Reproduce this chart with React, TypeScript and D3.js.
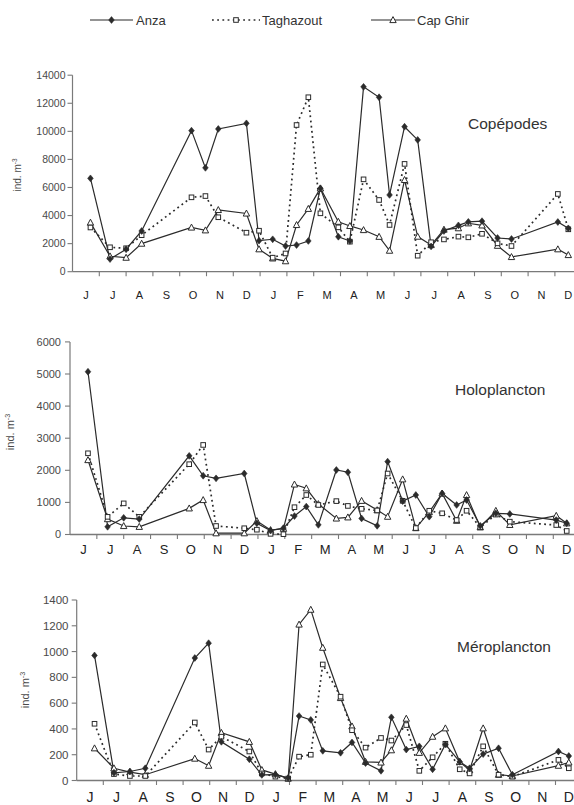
import React from 'react';
import * as d3 from 'd3';

// ---------- DATA ----------
const monthLabels = ['J', 'J', 'A', 'S', 'O', 'N', 'D', 'J', 'F', 'M', 'A', 'M', 'J', 'J', 'A', 'S', 'O', 'N', 'D'];
// sampling dates in months since start of June (year 1)
const sampleMonths = [0.67, 1.4, 2.0, 2.58, 4.44, 4.96, 5.44, 6.49, 6.96, 7.47, 7.95, 8.36, 8.8, 9.25, 9.92, 10.35, 10.86, 11.44, 11.83, 12.39, 12.88, 13.38, 13.86, 14.4, 14.77, 15.28, 15.86, 16.38, 18.11, 18.5];

const copAnza = [6650, 900, 1600, 2900, 10050, 7400, 10170, 10570, 2210, 2310, 1830, 1900, 2190, 5940, 2490, 2190, 13170, 12430, 5470, 10330, 9390, 1800, 2900, 3300, 3550, 3600, 2400, 2330, 3540, 3090];
const copTaghazout = [3150, 1740, 1670, 2600, 5300, 5390, 3880, 2780, 2920, 1000, 1300, 10450, 12430, 4160, 3160, 2140, 6580, 5110, 3330, 7680, 1140, 2100, 2300, 2500, 2450, 2700, 2020, 1830, 5540, 3020];
const copCapGhir = [3500, 1100, 1000, 2000, 3150, 2950, 4400, 4150, 1600, 950, 750, 3330, 4480, 5940, 3560, 3260, 2970, 2490, 1500, 6540, 2500, 1900, 3000, 3100, 3450, 3300, 1850, 1050, 1600, 1190];

const holoAnza = [5070, 240, 520, 480, 2450, 1830, 1750, 1900, 350, 120, 200, 575, 870, 300, 2010, 1940, 500, 270, 2270, 1040, 1230, 555, 1280, 920, 1075, 270, 660, 640, 450, 350];
const holoTaghazout = [2530, 550, 970, 550, 2190, 2790, 265, 195, 150, 20, 10, 850, 1230, 920, 1040, 890, 800, 750, 1900, 1050, 200, 740, 660, 450, 740, 225, 620, 400, 295, 110];
const holoCapGhir = [2320, 480, 265, 240, 815, 1075, 40, 40, 420, 140, 180, 1560, 1440, 950, 500, 535, 1050, 760, 555, 1720, 200, 700, 1280, 430, 1230, 225, 740, 300, 585, 350];

const meroAnza = [970, 60, 70, 95, 950, 1065, 300, 165, 43, 45, 20, 500, 470, 230, 215, 295, 135, 75, 490, 240, 265, 87, 280, 145, 95, 205, 250, 45, 225, 190];
const meroTaghazout = [440, 50, 35, 35, 450, 240, 340, 225, 55, 30, 15, 185, 200, 900, 650, 390, 255, 330, 310, 430, 75, 180, 285, 87, 55, 265, 45, 30, 160, 95];
const meroCapGhir = [250, 95, 65, 45, 170, 115, 370, 300, 82, 50, 15, 1210, 1325, 1030, 640, 420, 145, 140, 235, 480, 215, 340, 405, 145, 80, 405, 45, 35, 115, 140];

const stationNames = ['Anza', 'Taghazout', 'Cap Ghir'];
const yAxisTitle = 'ind. m';
const yAxisTitleSup = '-3';

// ---------- LAYOUT ----------
const FONT = '"Liberation Sans", Arial, Helvetica, sans-serif';
const INK = '#2b2b2b';
const AXIS = '#7a7a7a';
const TXT = '#4a4a4a';

type Panel = {
  title: string;
  series: number[][];
  yMax: number;
  yStep: number;
  axisX: number;
  monthW: number;
  y0: number;
  yTop: number;
  titleX: number;
  titleY: number;
  monthFont: number;
  monthY: number;
  tickFont: number;
  tickLabelX: number;
  yTitleX: number;
  yTitleY: number;
  yTitleFont: number;
};

const panels: Panel[] = [
  {
    title: 'Copépodes', series: [copAnza, copTaghazout, copCapGhir], yMax: 14000, yStep: 2000,
    axisX: 72.5, monthW: 26.8, y0: 271.7, yTop: 75.2, titleX: 468, titleY: 129,
    monthFont: 11, monthY: 299, tickFont: 10.5, tickLabelX: 65.5, yTitleX: 21, yTitleY: 175, yTitleFont: 10,
  },
  {
    title: 'Holoplancton', series: [holoAnza, holoTaghazout, holoCapGhir], yMax: 6000, yStep: 1000,
    axisX: 70, monthW: 26.85, y0: 534.5, yTop: 341.9, titleX: 455, titleY: 395,
    monthFont: 13, monthY: 554, tickFont: 11, tickLabelX: 61, yTitleX: 14, yTitleY: 432, yTitleFont: 11,
  },
  {
    title: 'Méroplancton', series: [meroAnza, meroTaghazout, meroCapGhir], yMax: 1400, yStep: 200,
    axisX: 76.7, monthW: 26.6, y0: 780.5, yTop: 600, titleX: 457, titleY: 652,
    monthFont: 14, monthY: 801.5, tickFont: 11.5, tickLabelX: 68.5, yTitleX: 29, yTitleY: 690, yTitleFont: 11,
  },
];

const Marker: React.FC<{ kind: number; x: number; y: number }> = ({ kind, x, y }) => {
  if (kind === 0) {
    return <path d={`M${x},${y - 3.4}L${x + 2.8},${y}L${x},${y + 3.4}L${x - 2.8},${y}Z`} fill={INK} stroke={INK} strokeWidth={0.6} />;
  }
  if (kind === 1) {
    return <rect x={x - 2.3} y={y - 2.3} width={4.6} height={4.6} fill="#fff" stroke={INK} strokeWidth={1} />;
  }
  return <path d={`M${x},${y - 3.4}L${x + 3.2},${y + 2.6}L${x - 3.2},${y + 2.6}Z`} fill="#fff" stroke={INK} strokeWidth={1} />;
};

const lineStyle = (k: number) =>
  k === 1
    ? { stroke: INK, strokeWidth: 1.7, strokeDasharray: '1.8,3.4', fill: 'none' }
    : { stroke: INK, strokeWidth: 1.2, fill: 'none' };

const PanelView: React.FC<{ p: Panel }> = ({ p }) => {
  const x = d3.scaleLinear().domain([0, 19]).range([p.axisX, p.axisX + 19 * p.monthW]);
  const y = d3.scaleLinear().domain([0, p.yMax]).range([p.y0, p.yTop]);
  const ticks = d3.range(0, p.yMax + 1, p.yStep);
  const line = d3.line<[number, number]>().x((d) => x(d[0])).y((d) => y(d[1]));
  const order = [2, 1, 0];
  return (
    <g>
      {/* y axis */}
      <line x1={p.axisX} x2={p.axisX} y1={p.y0} y2={y(p.yMax)} stroke={AXIS} strokeWidth={1.2} />
      {ticks.map((t) => (
        <g key={t}>
          <line x1={p.axisX - 5} x2={p.axisX} y1={y(t)} y2={y(t)} stroke={AXIS} strokeWidth={1.1} />
          <text x={p.tickLabelX} y={y(t)} dy="0.35em" textAnchor="end" fontSize={p.tickFont} fill={TXT} fontFamily={FONT}>
            {t}
          </text>
        </g>
      ))}
      {/* x axis */}
      <line x1={p.axisX} x2={x(19)} y1={p.y0} y2={p.y0} stroke={AXIS} strokeWidth={1.3} />
      {d3.range(1, 20).map((i) => (
        <line key={i} x1={x(i)} x2={x(i)} y1={p.y0} y2={p.y0 + 4.5} stroke={AXIS} strokeWidth={1.1} />
      ))}
      {monthLabels.map((m, i) => (
        <text key={i} x={x(i + 0.5)} y={p.monthY} textAnchor="middle" fontSize={p.monthFont} fill="#222" fontFamily={FONT}>
          {m}
        </text>
      ))}
      {/* y title */}
      <text transform={`translate(${p.yTitleX},${p.yTitleY}) rotate(-90)`} textAnchor="middle" fontSize={p.yTitleFont} fill={TXT} fontFamily={FONT}>
        {yAxisTitle}
        <tspan fontSize={p.yTitleFont * 0.65} dy={-p.yTitleFont * 0.4}>{yAxisTitleSup}</tspan>
      </text>
      {/* title */}
      <text x={p.titleX} y={p.titleY} fontSize={15.5} fill="#333" fontFamily={FONT}>
        {p.title}
      </text>
      {/* lines */}
      {order.map((k) => {
        const pts = sampleMonths.map((m, i) => [m, p.series[k][i]] as [number, number]);
        return <path key={k} d={line(pts) || ''} {...lineStyle(k)} />;
      })}
      {order.map((k) =>
        sampleMonths.map((m, i) => <Marker key={`${k}-${i}`} kind={k} x={x(m)} y={y(p.series[k][i])} />)
      )}
    </g>
  );
};

const legendItems = [
  { x1: 90, x2: 133, text: 136 },
  { x1: 212, x2: 260, text: 262 },
  { x1: 371, x2: 415, text: 417 },
];

export default function App() {
  React.useEffect(() => {
    document.body.style.margin = '0';
  }, []);
  return (
    <svg width={574} height={805} style={{ position: 'absolute', left: 0, top: 0, background: '#fff' }} fontFamily={FONT}>
      <rect width={574} height={805} fill="#fff" />
      {stationNames.map((n, k) => {
        const L = legendItems[k];
        return (
          <g key={n}>
            <line x1={L.x1} x2={L.x2} y1={20} y2={20} {...lineStyle(k)} />
            <Marker kind={k} x={(L.x1 + L.x2) / 2} y={20} />
            <text x={L.text} y={24.5} fontSize={13} fill="#333" fontFamily={FONT}>
              {n}
            </text>
          </g>
        );
      })}
      {panels.map((p) => (
        <PanelView key={p.title} p={p} />
      ))}
    </svg>
  );
}
